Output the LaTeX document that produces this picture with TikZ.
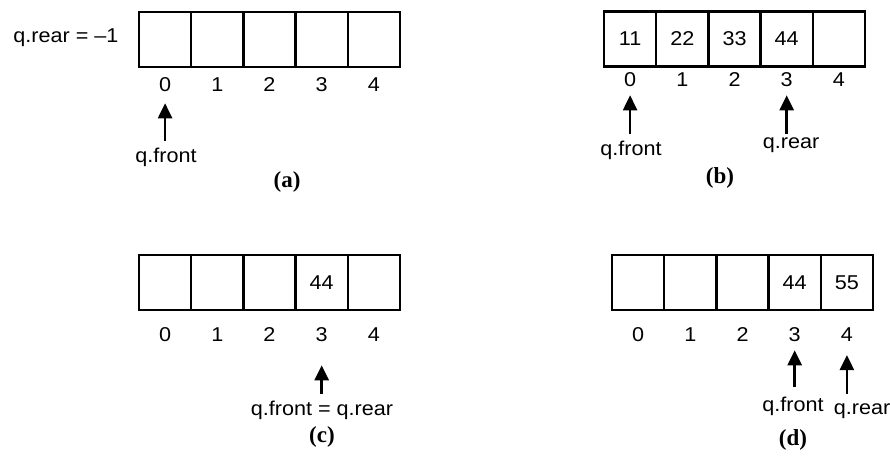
\documentclass[tikz,border=0pt]{standalone}
\usepackage{fontspec}
\setmainfont{Liberation Sans}[FakeStretch=1.08]
\newfontfamily\capfont{Liberation Serif}
\usetikzlibrary{arrows.meta}
\begin{document}
\begin{tikzpicture}[x=1pt,y=-1pt,
  txt/.style={inner sep=0pt, font=\fontsize{20}{23}\selectfont},
  cell/.style={txt, draw, line width=2.3pt, minimum width=52.2pt, minimum height=55pt},
  captxt/.style={inner sep=0pt, font=\capfont\bfseries\fontsize{23}{26}\selectfont},
  ptr/.style={line width=2.5pt, {Triangle[length=15pt,width=14pt]}-}]
\useasboundingbox (0,0) rectangle (890,457);
\fill[white] (0,0) rectangle (890,457);

% (a) empty queue
\foreach \i/\v in {0/{},1/{},2/{},3/{},4/{}} {
  \node[cell] (a\i) at ({165.1+52.2*\i},39.5) {\v};
  \node[txt] (ia\i) at ({165.1+52.2*\i},85) {\i};
}
\node[txt] (qra) at (66,38) {q.rear = –1};
\node[txt] (qfa) at (166,157) {q.front};
\draw[ptr, shorten <=11pt, shorten >=6pt] (ia0.south) -- (ia0.south |- qfa.north);
\node[captxt] (capa) at (287,182) {(a)};

% (b) four elements inserted
\foreach \i/\v in {0/11,1/22,2/33,3/44,4/{}} {
  \node[cell] (b\i) at ({630.1+52.2*\i},39) {\v};
  \node[txt] (ib\i) at ({630.1+52.2*\i},80) {\i};
}
\node[txt] (qfb) at (631,150) {q.front};
\node[txt] (qrb) at (791,145) {q.rear};
\draw[ptr, shorten <=8pt, shorten >=6pt] (ib0.south) -- (ib0.south |- qfb.north);
\draw[ptr, shorten <=8pt, shorten >=3pt] (ib3.south) -- (ib3.south |- qrb.north);
\node[captxt] (capb) at (720,178) {(b)};

% (c) three elements deleted
\foreach \i/\v in {0/{},1/{},2/{},3/44,4/{}} {
  \node[cell] (c\i) at ({165.1+52.2*\i},282.5) {\v};
  \node[txt] (ic\i) at ({165.1+52.2*\i},335) {\i};
}
\node[txt] (qc) at (322,410) {q.front = q.rear};
\draw[ptr, shorten <=23pt, shorten >=6pt] (ic3.south) -- (ic3.south |- qc.north);
\node[captxt] (capc) at (322,437) {(c)};

% (d) one more element inserted
\foreach \i/\v in {0/{},1/{},2/{},3/44,4/55} {
  \node[cell] (d\i) at ({638.1+52.2*\i},282.5) {\v};
  \node[txt] (id\i) at ({638.1+52.2*\i},335) {\i};
}
\node[txt] (qfd) at (793,406) {q.front};
\node[txt] (qrd) at (862,411) {q.rear};
\draw[ptr, shorten <=8pt, shorten >=9pt] (id3.south) -- (id3.south |- qfd.north);
\draw[ptr, shorten <=13pt, shorten >=9pt] (id4.south) -- (id4.south |- qrd.north);
\node[captxt] (capd) at (793,440) {(d)};
\end{tikzpicture}
\end{document}
